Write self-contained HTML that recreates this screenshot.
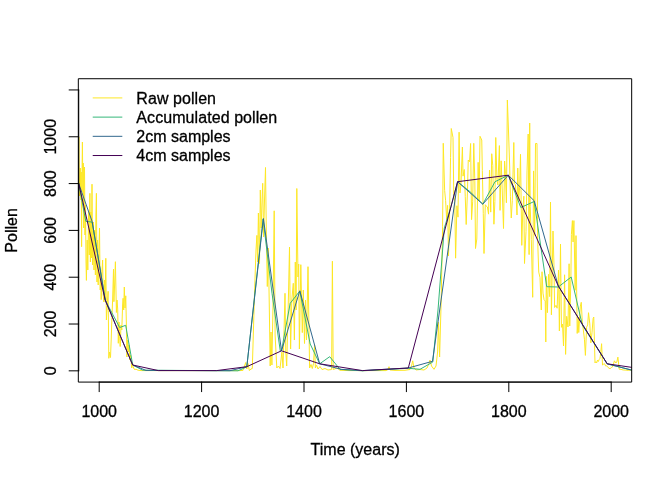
<!DOCTYPE html>
<html><head><meta charset="utf-8"><title>Pollen</title>
<style>html,body{margin:0;padding:0;background:#fff}body{width:672px;height:480px;overflow:hidden}</style></head>
<body>
<svg width="672" height="480" viewBox="0 0 672 480" style="display:block">
<defs><clipPath id="c"><rect x="78.72" y="78.72" width="552.96" height="303.36"/></clipPath></defs>
<rect width="672" height="480" fill="#fff"/>
<g clip-path="url(#c)" fill="none" stroke-width="1" stroke-linejoin="round" stroke-linecap="round">
<path d="M78.40 165.00 L78.85 137.00 L79.50 196.00 L80.30 168.00 L80.80 200.00 L81.20 172.00 L81.60 246.70 L82.00 175.00 L82.40 142.00 L82.90 192.00 L83.25 163.00 L83.70 228.00 L84.10 168.00 L84.50 167.00 L85.00 235.00 L85.50 205.00 L86.00 262.00 L86.40 280.40 L87.20 240.00 L87.80 270.00 L88.60 212.00 L89.30 255.00 L89.90 193.30 L90.40 262.00 L90.90 212.00 L91.40 258.00 L92.00 184.20 L92.60 265.00 L93.30 222.00 L94.00 270.00 L94.70 230.00 L95.40 275.00 L95.90 215.00 L96.40 193.30 L97.00 282.00 L97.60 240.00 L98.20 285.00 L98.90 250.00 L99.50 228.00 L100.20 290.00 L100.70 270.00 L101.20 299.60 L101.80 275.00 L102.60 260.00 L103.20 295.00 L103.90 302.00 L104.50 280.00 L105.10 300.00 L105.80 258.30 L106.40 320.00 L107.20 305.00 L108.10 291.30 L108.80 358.30 L109.60 352.00 L110.50 357.50 L111.20 340.00 L111.90 318.00 L112.60 300.00 L113.50 269.20 L113.90 301.70 L114.60 285.00 L115.40 261.70 L116.40 312.50 L117.00 300.00 L117.70 309.00 L118.30 343.30 L119.00 322.00 L119.60 335.00 L120.20 346.50 L121.00 325.00 L121.80 330.00 L122.60 305.00 L123.10 298.30 L123.70 310.00 L124.30 287.00 L125.00 308.00 L125.75 295.80 L126.40 325.00 L126.90 357.00 L127.60 340.00 L128.30 352.00 L129.00 345.00 L129.80 360.00 L130.60 355.00 L131.75 368.00 L132.40 362.00 L133.00 366.00 L134.00 369.00 L135.00 369.50 L136.00 369.20 L138.00 370.20 L141.00 370.60 L200.00 370.60 L240.00 370.60 L243.00 370.40 L244.50 366.00 L245.70 362.50 L246.80 369.00 L248.00 363.50 L249.30 370.50 L251.00 369.00 L252.30 368.50 L253.30 335.00 L254.30 300.00 L255.30 270.00 L256.00 250.00 L256.90 235.40 L257.60 262.00 L258.40 213.00 L259.50 263.50 L260.30 190.00 L261.20 228.00 L261.90 205.00 L262.70 183.30 L263.60 237.00 L264.50 200.00 L265.50 167.50 L266.30 230.00 L267.30 286.50 L268.30 248.00 L269.20 300.00 L270.20 366.00 L271.00 332.00 L271.90 365.00 L273.10 300.00 L274.20 210.80 L275.10 335.00 L276.80 368.00 L278.40 366.00 L280.00 368.50 L281.90 352.00 L283.00 368.00 L284.20 325.00 L285.00 293.30 L285.80 352.00 L286.70 366.00 L287.60 330.00 L288.60 290.00 L289.50 247.00 L290.60 349.00 L291.80 300.00 L293.30 283.30 L294.40 340.00 L295.30 262.00 L296.10 310.00 L296.80 188.50 L298.00 277.00 L298.70 264.00 L299.40 349.00 L300.80 264.70 L302.30 332.60 L303.30 290.00 L304.50 343.50 L305.50 300.00 L306.50 340.00 L308.00 266.70 L309.60 368.00 L311.00 364.50 L312.30 368.50 L313.50 363.50 L314.60 345.00 L315.40 368.00 L316.50 365.00 L318.00 369.00 L320.00 366.50 L322.00 369.50 L325.00 368.50 L328.00 370.00 L331.60 369.50 L332.40 261.20 L333.20 369.50 L337.00 368.00 L340.00 370.30 L350.00 370.60 L386.00 370.60 L388.00 369.50 L389.00 366.70 L390.00 370.00 L395.00 370.40 L405.00 370.30 L410.00 369.50 L411.50 366.00 L412.70 360.80 L414.00 368.00 L416.00 370.00 L420.00 369.50 L424.00 370.00 L427.00 368.00 L428.80 364.00 L430.00 360.00 L431.50 366.00 L434.00 369.30 L436.00 366.00 L437.60 352.00 L438.50 322.00 L439.60 357.00 L441.20 300.00 L442.60 226.20 L443.25 143.25 L444.64 190.31 L445.61 200.65 L446.66 219.63 L447.62 205.35 L448.50 256.00 L449.56 214.70 L450.56 157.41 L451.25 128.50 L453.00 137.50 L453.78 195.41 L454.78 201.49 L455.60 258.20 L456.91 205.73 L457.99 217.16 L459.10 132.20 L459.97 193.00 L460.96 184.69 L462.40 147.00 L463.04 176.14 L464.25 169.50 L465.24 196.36 L466.20 224.50 L467.42 193.02 L468.25 160.00 L469.54 161.77 L470.60 143.50 L471.57 219.66 L472.67 201.82 L473.75 143.30 L474.83 181.83 L475.50 248.50 L476.80 239.00 L478.15 162.34 L479.11 200.58 L480.00 136.30 L481.75 140.00 L482.33 170.48 L483.28 213.73 L484.00 253.50 L485.29 204.70 L486.39 206.30 L487.42 206.94 L488.54 214.15 L489.50 170.00 L490.73 212.13 L491.73 153.74 L492.77 165.36 L493.91 224.22 L494.89 201.59 L495.75 137.50 L496.93 179.41 L497.88 184.96 L499.40 145.60 L500.06 210.36 L501.15 160.80 L502.23 190.03 L503.50 228.50 L504.60 161.00 L505.43 173.58 L506.40 202.77 L507.35 100.00 L508.40 128.00 L509.70 167.00 L510.40 196.25 L511.25 218.00 L512.33 200.54 L513.80 142.50 L514.46 183.53 L515.48 184.76 L517.00 215.00 L517.75 168.07 L518.71 200.72 L519.68 186.36 L520.50 154.30 L521.78 245.35 L522.84 209.29 L523.82 196.18 L524.50 263.50 L526.02 231.29 L527.02 170.95 L528.20 134.00 L529.10 254.62 L529.70 123.00 L530.21 206.64 L531.32 239.39 L532.70 297.30 L533.58 170.91 L534.68 235.39 L535.50 143.50 L537.00 143.50 L537.66 240.36 L538.74 272.07 L540.00 277.50 L541.30 310.00 L542.02 271.72 L543.02 293.10 L544.09 299.77 L545.22 300.95 L545.80 342.00 L546.30 276.43 L547.41 312.68 L548.50 274.40 L549.65 296.61 L550.50 202.00 L551.40 314.80 L553.00 231.00 L553.92 262.94 L554.60 307.50 L556.00 305.31 L557.13 308.22 L558.50 270.00 L559.39 331.00 L560.50 244.00 L561.44 327.33 L562.50 324.00 L563.50 346.00 L564.59 274.77 L565.60 354.40 L566.70 316.30 L568.00 327.00 L569.10 263.75 L569.74 326.01 L570.87 279.36 L571.40 234.40 L572.40 220.60 L573.07 241.98 L573.90 220.60 L575.17 290.26 L576.00 235.60 L577.20 333.44 L578.18 317.84 L578.75 332.50 L580.24 306.92 L581.25 302.30 L582.27 321.17 L583.33 329.97 L584.44 339.22 L585.40 355.40 L586.62 327.23 L587.66 324.94 L588.50 312.70 L589.80 323.83 L590.84 342.84 L591.98 332.88 L593.12 318.57 L593.75 317.00 L595.00 362.90 L595.80 361.70 L596.60 363.00 L597.50 360.00 L598.30 361.50 L599.20 359.50 L600.00 358.30 L600.80 352.00 L601.60 343.70 L602.50 365.00 L603.50 364.20 L604.60 363.75 L605.60 366.00 L606.70 365.80 L608.00 367.50 L610.00 368.75 L611.30 367.60 L612.50 367.00 L613.50 364.00 L614.40 360.80 L615.80 363.00 L616.80 362.00 L617.90 357.10 L619.20 369.20 L621.00 369.40 L623.30 370.00 L626.00 370.10 L628.30 370.40 L631.25 370.00 L633.00 370.20" stroke="#FDE725"/>
<path d="M78.72 183.60 L85.80 221.30 L92.10 222.10 L99.00 262.00 L105.20 300.00 L112.50 314.00 L119.70 327.50 L125.70 325.30 L132.70 365.00 L142.70 370.20 L238.00 370.80 L246.80 366.90 L263.10 219.00 L272.00 293.30 L280.30 351.00 L281.50 350.80 L290.20 303.30 L299.80 291.00 L310.20 344.00 L319.70 363.80 L329.70 356.70 L340.00 369.40 L362.50 370.80 L408.30 368.30 L420.00 369.30 L432.80 362.00 L438.00 310.00 L444.30 228.00 L451.00 206.50 L457.60 181.70 L470.00 191.70 L482.80 204.20 L495.00 181.70 L508.30 175.20 L520.80 207.50 L534.20 201.50 L546.70 286.70 L558.30 287.00 L571.20 277.00 L582.30 325.00 L607.20 363.80 L632.00 370.20" stroke="#35B779"/>
<path d="M78.72 183.60 L92.20 221.70 L105.20 300.00 L119.00 333.00 L132.70 365.00 L146.00 370.40 L230.00 370.70 L246.80 366.70 L263.40 218.50 L281.50 350.80 L299.80 290.80 L319.70 363.80 L341.70 369.40 L362.50 370.60 L408.30 368.00 L432.50 361.30 L457.60 181.70 L482.80 204.20 L508.30 175.20 L534.20 200.80 L558.30 286.00 L607.20 363.80 L632.00 370.20" stroke="#31688E"/>
<path d="M78.72 183.60 L105.20 300.00 L132.70 365.00 L158.50 370.60 L216.50 370.60 L246.80 366.70 L281.50 350.80 L319.70 363.80 L362.50 370.60 L408.30 368.00 L457.60 181.70 L508.30 175.20 L558.30 286.00 L607.20 363.80 L632.00 367.40" stroke="#440154"/>
</g>
<g fill="none" stroke="#000" stroke-width="1" stroke-linecap="round" stroke-linejoin="round">
<rect x="78.72" y="78.72" width="552.96" height="303.36"/>
<path d="M99.20 382.08 H611.20"/>
<path d="M99.20 382.08 v9.6"/>
<path d="M201.60 382.08 v9.6"/>
<path d="M304.00 382.08 v9.6"/>
<path d="M406.40 382.08 v9.6"/>
<path d="M508.80 382.08 v9.6"/>
<path d="M611.20 382.08 v9.6"/>
<path d="M78.72 370.84 V89.95"/>
<path d="M78.72 370.84 h-9.6"/>
<path d="M78.72 324.03 h-9.6"/>
<path d="M78.72 277.21 h-9.6"/>
<path d="M78.72 230.40 h-9.6"/>
<path d="M78.72 183.58 h-9.6"/>
<path d="M78.72 136.77 h-9.6"/>
<path d="M78.72 89.95 h-9.6"/>
</g>
<g stroke-width="1" fill="none" stroke-linecap="round">
<path d="M93.12 97.92 H121.92" stroke="#FDE725"/>
<path d="M93.12 117.12 H121.92" stroke="#35B779"/>
<path d="M93.12 136.32 H121.92" stroke="#31688E"/>
<path d="M93.12 155.52 H121.92" stroke="#440154"/>
</g>
<g style="font-family:&quot;Liberation Sans&quot;,Arial,Helvetica,sans-serif;font-size:16px" fill="#000" stroke="#000" stroke-width="0.3">
<text x="136.32" y="103.52" textLength="79.7">Raw pollen</text>
<text x="136.32" y="122.72" textLength="140.9">Accumulated pollen</text>
<text x="136.32" y="141.92">2cm samples</text>
<text x="136.32" y="161.12">4cm samples</text>
<text x="99.20" y="416.64" text-anchor="middle">1000</text>
<text x="201.60" y="416.64" text-anchor="middle">1200</text>
<text x="304.00" y="416.64" text-anchor="middle">1400</text>
<text x="406.40" y="416.64" text-anchor="middle">1600</text>
<text x="508.80" y="416.64" text-anchor="middle">1800</text>
<text x="611.20" y="416.64" text-anchor="middle">2000</text>
<text transform="translate(55.68 370.84) rotate(-90)" text-anchor="middle">0</text>
<text transform="translate(55.68 324.03) rotate(-90)" text-anchor="middle">200</text>
<text transform="translate(55.68 277.21) rotate(-90)" text-anchor="middle">400</text>
<text transform="translate(55.68 230.40) rotate(-90)" text-anchor="middle">600</text>
<text transform="translate(55.68 183.58) rotate(-90)" text-anchor="middle">800</text>
<text transform="translate(55.68 136.77) rotate(-90)" text-anchor="middle">1000</text>
<text x="355.2" y="455.04" text-anchor="middle">Time (years)</text>
<text transform="translate(17.28 230.4) rotate(-90)" text-anchor="middle">Pollen</text>
</g>
</svg>
</body></html>
